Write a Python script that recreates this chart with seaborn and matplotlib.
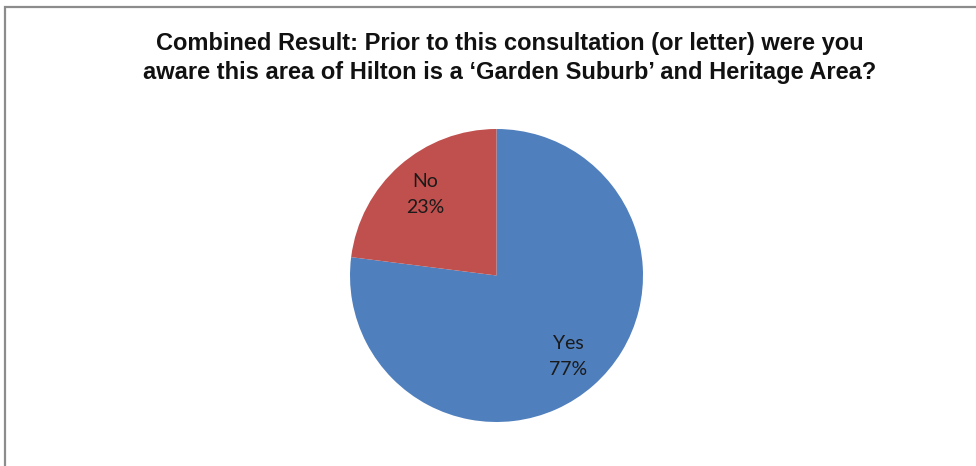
import matplotlib
matplotlib.use("Agg")
import matplotlib.pyplot as plt
from matplotlib.patches import Rectangle
import seaborn as sns

categories = ["Yes", "No"]
values = [77, 23]
colors_hex = ["#4F7FBD", "#C0504D"]
title_text = ("Combined Result: Prior to this consultation (or letter) were you\n"
              "aware this area of Hilton is a \u2018Garden Suburb\u2019 and Heritage Area?")

sns.set_theme(style="white")
plt.rcParams['font.family'] = ['Liberation Sans', 'DejaVu Sans']

W, H = 976, 466
fig = plt.figure(figsize=(W / 100, H / 100), dpi=100)
fig.patch.set_facecolor("white")

# border frame
fig.patches.append(Rectangle((5 / W, -0.1), 1.2, (H - 7) / H + 0.1,
                             transform=fig.transFigure, fill=False,
                             edgecolor="#8c8c8c", linewidth=1.6))

cx, cy, R = 496.5, H - 275.5, 146.5
pad = 1.1
ax = fig.add_axes([(cx - R * pad) / W, (cy - R * pad) / H, 2 * R * pad / W, 2 * R * pad / H])
pal = sns.color_palette(colors_hex)
labels = [f"{c}\n{v}%" for c, v in zip(categories, values)]
wedges, texts = ax.pie(values, labels=labels, colors=pal, startangle=90, counterclock=False,
                       labeldistance=0.74, radius=1,
                       wedgeprops=dict(linewidth=0),
                       textprops=dict(fontsize=14, family=['Lato', 'DejaVu Sans'],
                                      color="#1a1a1a", ha="center", va="center",
                                      linespacing=1.65))
ax.set_xlim(-pad, pad)
ax.set_ylim(-pad, pad)
ax.set_aspect("equal")
ax.axis("off")

fig.text(510 / W, (H - 58) / H, title_text, ha="center", va="center",
         fontsize=17, fontweight="bold", linespacing=1.3, color="#111111")

fig.savefig("out.png", dpi=100, facecolor="white")
